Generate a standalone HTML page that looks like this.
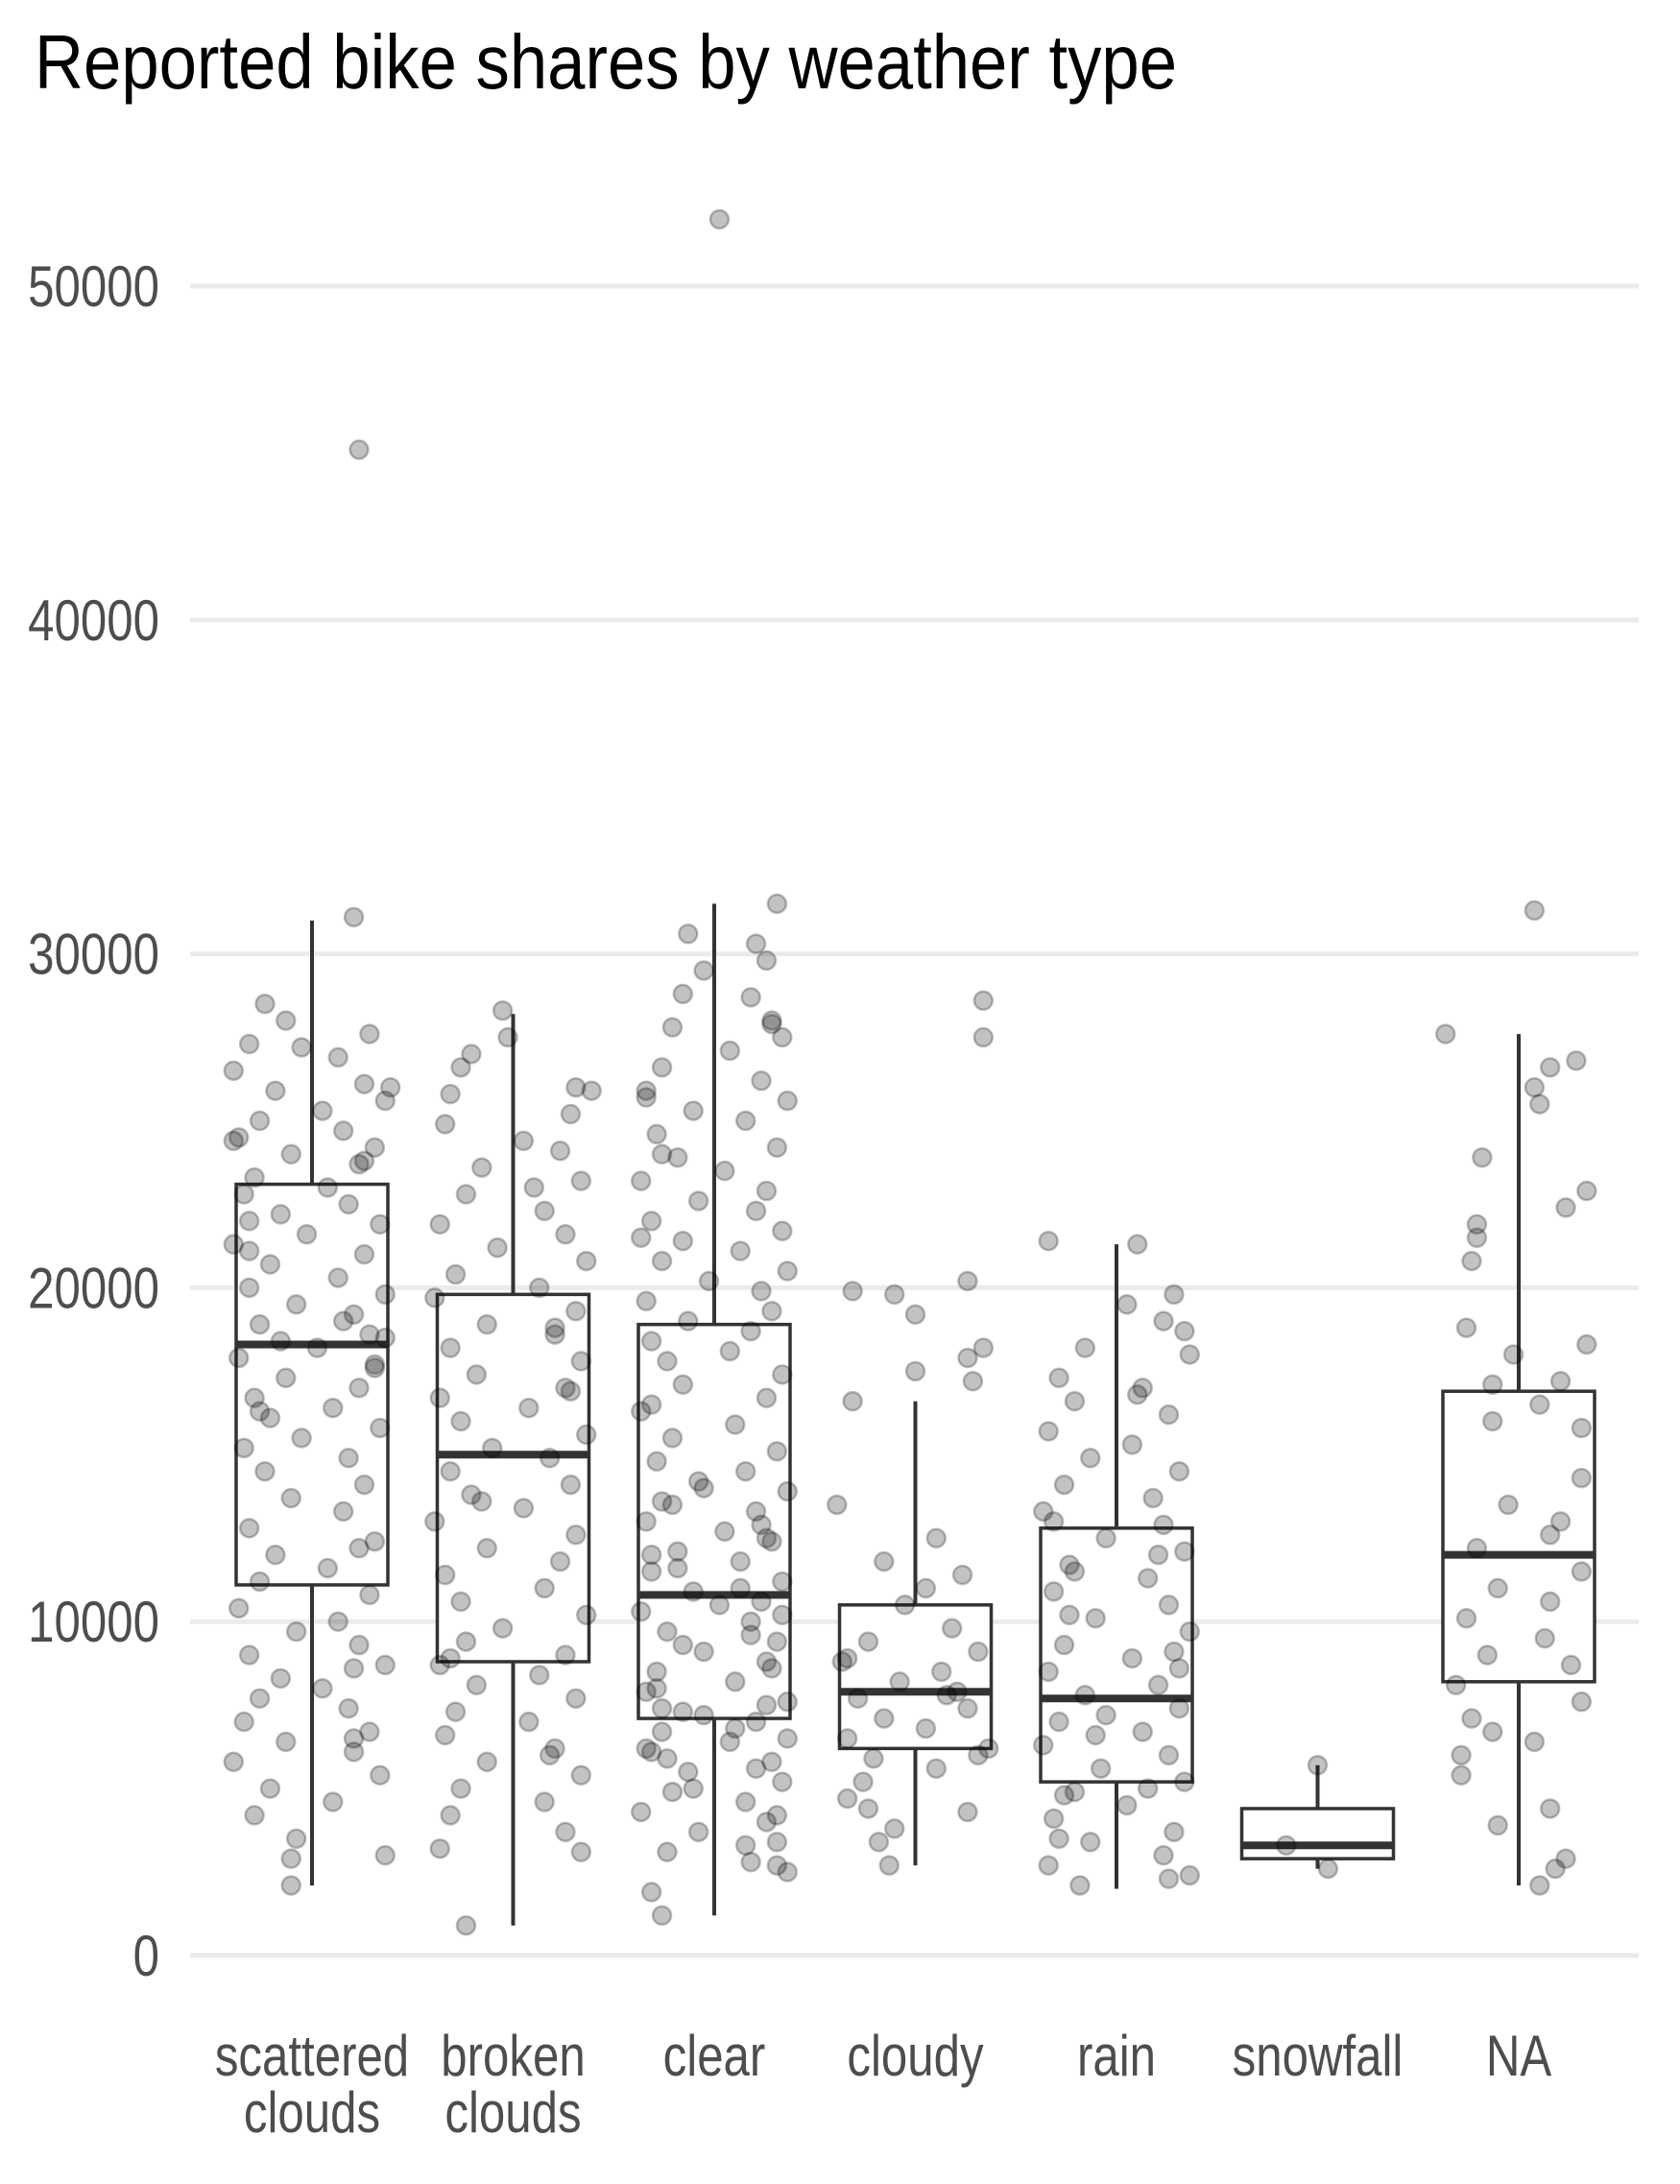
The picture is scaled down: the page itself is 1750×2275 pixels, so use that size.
<!DOCTYPE html>
<html><head><meta charset="utf-8">
<style>
html,body{margin:0;padding:0;background:#fff;}
svg{display:block;}
text{font-family:"Liberation Sans Narrow","Liberation Sans",sans-serif;}
</style></head>
<body>
<svg id="chart" width="1750" height="2275" viewBox="0 0 1750 2275" xmlns="http://www.w3.org/2000/svg">
<text x="36" y="92" font-size="80" fill="#000" textLength="1190" lengthAdjust="spacingAndGlyphs">Reported bike shares by weather type</text>
<g id="grid"></g>
<g id="yticks"></g>
<g id="boxes"></g>
<g id="points"></g>
<g id="xticks"></g>
</svg>
<script>
const categories = ["scattered clouds","broken clouds","clear","cloudy","rain","snowfall","NA"];
const yTicks = [0,10000,20000,30000,40000,50000];
const whiskerLow = [2100,900,1200,2700,2000,2600,2100];
const q1 = [11100,8800,7100,6200,5200,2900,8200];
const median = [18300,15000,10800,7900,7700,3300,12000];
const q3 = [23100,19800,18900,10500,12800,4400,16900];
const whiskerHigh = [31000,28200,31500,16600,21300,5700,27600];
// points: values in thousands, jitter as fraction of category spacing
const ptsScattered = [31.1,28.5,28.0,27.3,27.6,27.2,26.9,26.5,26.1,25.9,25.6,25.3,25.0,24.7,24.5,24.2,24.0,23.7,23.3,23.0,22.8,22.5,22.2,21.9,21.6,21.3,21.0,20.7,20.3,20.0,19.8,19.5,19.2,18.9,18.6,18.4,18.2,17.9,17.6,17.3,17.0,16.7,16.4,16.1,15.8,15.5,15.2,14.9,14.5,14.1,13.7,13.3,12.8,12.4,12.0,11.6,11.2,10.8,10.4,10.0,9.7,9.3,9.0,8.7,8.3,8.0,7.7,7.4,7.0,6.7,6.4,6.1,5.8,5.4,5.0,4.6,4.2,3.5,3.0,2.9,2.1,45.1,26.0,23.8,22.0,19.0,17.7,16.3,12.2,8.6,6.5,24.4,21.1,18.5];
const jitScattered = [0.08,-0.09,-0.05,-0.12,0.11,-0.02,0.05,-0.15,0.1,-0.07,0.14,0.02,-0.1,0.06,-0.14,0.12,-0.04,0.09,-0.11,0.03,-0.13,0.07,-0.06,0.13,-0.01,-0.15,0.1,-0.08,0.05,-0.12,0.14,-0.03,0.08,-0.1,0.11,-0.06,0.01,-0.14,0.12,-0.05,0.09,-0.11,0.04,-0.08,0.13,-0.02,-0.13,0.07,-0.09,0.1,-0.04,0.06,-0.12,0.12,-0.07,0.03,-0.1,0.11,-0.14,0.05,-0.03,0.09,-0.12,0.14,-0.06,0.02,-0.1,0.07,-0.13,0.11,-0.05,0.08,-0.15,0.13,-0.08,0.04,-0.11,-0.03,0.14,-0.04,-0.04,0.09,0.15,0.1,-0.12,0.06,0.12,-0.1,0.09,0.08,0.08,-0.15,-0.12,0.14];
const ptsBroken = [28.3,27.5,27.0,26.6,26.0,25.8,25.2,24.9,24.4,24.1,23.6,23.2,22.8,22.3,21.9,21.6,21.2,20.8,20.4,20.0,19.7,19.3,18.9,18.6,18.2,17.8,17.4,17.0,16.7,16.4,16.0,15.6,15.2,14.9,14.5,14.1,13.8,13.4,13.0,12.6,12.2,11.8,11.4,11.0,10.6,10.2,9.8,9.4,9.0,8.7,8.4,8.1,7.7,7.3,7.0,6.6,6.2,5.8,5.4,5.0,4.6,4.2,3.7,3.2,3.1,0.9,25.9,23.0,18.8,16.9,13.6,8.9,6.0];
const jitBroken = [-0.02,-0.01,-0.08,-0.1,0.12,-0.12,0.11,-0.13,0.02,0.09,-0.06,0.13,-0.09,0.06,-0.14,0.1,-0.03,0.14,-0.11,0.05,-0.15,0.12,-0.05,0.08,-0.12,0.13,-0.07,0.1,-0.14,0.03,-0.1,0.14,-0.04,0.07,-0.12,0.11,-0.08,0.02,-0.15,0.12,-0.05,0.09,-0.13,0.06,-0.1,0.14,-0.02,-0.09,0.1,-0.14,0.05,-0.07,0.12,-0.11,0.03,-0.13,0.08,-0.05,0.13,-0.1,0.06,-0.12,0.1,-0.14,0.13,-0.09,0.15,0.04,0.08,0.11,-0.06,-0.12,0.07];
const ptsClear = [52.0,31.5,30.6,30.3,29.8,29.5,28.8,28.7,28.0,27.8,27.5,27.1,26.6,26.2,25.9,25.6,25.3,25.0,24.6,24.2,23.9,23.5,23.2,22.9,22.6,22.3,22.0,21.7,21.4,21.1,20.8,20.5,20.2,19.9,19.6,19.3,19.0,18.7,18.4,18.1,17.8,17.4,17.1,16.7,16.3,15.9,15.5,15.1,14.8,14.5,14.2,13.9,13.6,13.3,13.0,12.7,12.4,12.1,11.8,11.5,11.2,10.9,10.6,10.3,10.0,9.7,9.4,9.1,8.8,8.5,8.2,7.9,7.6,7.3,7.0,6.7,6.4,6.1,5.8,5.5,5.2,4.9,4.6,4.3,4.0,3.7,3.4,3.1,2.8,2.5,1.9,1.2,13.5,12.9,12.0,11.0,10.2,9.3,8.6,7.4,6.8,6.2,5.6,5.0,4.2,3.3,14.0,12.5,11.6,10.5,9.6,8.0,7.2,6.5,5.9,2.7,25.7,24.0,27.9,21.5,16.5,7.5];
const jitClear = [0.01,0.12,-0.05,0.08,0.1,-0.02,-0.06,0.07,0.11,-0.08,0.13,0.03,-0.1,0.09,-0.13,0.14,-0.04,0.06,-0.11,0.12,-0.07,0.02,-0.14,0.1,-0.03,0.08,-0.12,0.13,-0.06,0.05,-0.1,0.14,-0.01,0.09,-0.13,0.11,-0.05,0.07,-0.12,0.03,-0.09,0.13,-0.06,0.1,-0.14,0.04,-0.08,0.12,-0.11,0.06,-0.03,0.14,-0.1,0.08,-0.13,0.02,0.11,-0.07,0.05,-0.12,0.13,-0.04,0.09,-0.14,0.07,-0.09,0.12,-0.02,0.1,-0.11,0.04,-0.13,0.14,-0.06,0.08,-0.1,0.03,-0.12,0.11,-0.05,0.13,-0.08,0.06,-0.14,0.1,-0.03,0.12,-0.09,0.07,0.14,-0.12,-0.1,-0.08,0.09,-0.12,0.05,0.13,-0.06,0.11,-0.1,0.04,-0.13,0.08,-0.04,0.12,0.06,-0.02,0.1,-0.07,0.01,0.07,-0.11,-0.02,0.14,-0.09,0.12,-0.13,-0.1,0.11,-0.14,-0.12,0.1];
const ptsCloudy = [28.6,27.5,20.2,19.9,19.8,19.2,18.2,17.9,17.5,17.2,16.6,13.5,12.5,11.8,11.4,11.0,10.5,9.8,9.4,9.1,8.8,8.5,8.2,7.9,7.7,7.4,7.1,6.8,6.5,6.2,5.9,5.6,5.2,4.7,4.4,4.3,3.8,3.4,2.7,8.9,7.8,6.0];
const jitCloudy = [0.13,0.13,0.1,-0.12,-0.04,0.0,0.13,0.1,0.0,0.11,-0.12,-0.15,0.04,-0.06,0.09,0.02,-0.02,0.07,-0.09,0.12,-0.14,0.05,-0.03,0.08,-0.11,0.1,-0.06,0.02,-0.13,0.14,-0.08,0.04,-0.1,-0.13,-0.09,0.1,-0.04,-0.07,-0.05,-0.13,0.06,0.12];
const ptsRain = [21.4,21.3,19.8,19.5,19.0,18.7,18.2,18.0,17.3,17.0,16.6,16.2,15.7,15.3,14.9,14.5,14.1,13.7,13.3,12.9,12.5,12.1,11.7,11.3,10.9,10.5,10.1,9.7,9.3,8.9,8.5,8.1,7.8,7.4,7.0,6.7,6.3,6.0,5.6,5.2,4.9,4.5,4.1,3.7,3.4,3.0,2.7,2.4,2.1,12.0,10.2,8.6,6.6,5.0,3.5,2.3,16.8,13.0,11.5,9.1,7.2,4.8];
const jitRain = [-0.13,0.04,0.11,0.02,0.09,0.13,-0.06,0.14,-0.11,0.05,-0.08,0.1,-0.13,0.03,-0.05,0.12,-0.1,0.07,-0.14,0.09,-0.02,0.13,-0.09,0.06,-0.12,0.1,-0.04,0.14,-0.1,0.03,-0.13,0.08,-0.06,0.12,-0.11,0.05,-0.14,0.1,-0.03,0.13,-0.08,0.02,-0.12,0.11,-0.05,0.09,-0.13,0.14,-0.07,0.08,-0.09,0.12,-0.04,0.06,-0.11,0.1,0.04,-0.12,-0.08,0.11,-0.02,-0.1];
const ptsSnow = [5.7,3.3,2.6];
const jitSnow = [0.0,-0.06,0.02];
const ptsNA = [31.3,27.6,26.8,26.6,26.0,25.5,23.9,22.9,22.4,21.9,21.5,20.8,18.8,18.3,18.0,17.2,17.1,16.5,16.0,15.8,14.3,13.5,13.0,12.6,12.2,11.5,11.0,10.6,10.1,9.5,9.0,8.7,8.1,7.6,7.1,6.7,6.4,6.0,5.4,4.4,3.9,2.9,2.6,2.1];
const jitNA = [0.03,-0.14,0.11,0.06,0.03,0.04,-0.07,0.13,0.09,-0.08,-0.08,-0.09,-0.1,0.13,-0.01,0.08,-0.05,0.04,-0.05,0.12,0.12,-0.02,0.08,0.06,-0.08,0.12,-0.04,0.06,-0.1,0.05,-0.06,0.1,-0.12,0.12,-0.09,-0.05,0.03,-0.11,-0.11,0.06,-0.04,0.09,0.07,0.04];

const ptVals = [ptsScattered,ptsBroken,ptsClear,ptsCloudy,ptsRain,ptsSnow,ptsNA];
const ptJit = [jitScattered,jitBroken,jitClear,jitCloudy,jitRain,jitSnow,jitNA];

const NS='http://www.w3.org/2000/svg';
const Y0=2037, PER=347.8/10000;
function yScale(v){return Y0 - v*PER;}
const X0=325, STEP=209.5;
function xScale(i){return X0 + i*STEP;}
const BW=158;
const SX=0.82;
function mk(tag,attrs,parent){const e=document.createElementNS(NS,tag);for(const k in attrs)e.setAttribute(k,attrs[k]);parent.appendChild(e);return e;}

const grid=document.getElementById('grid'), yt=document.getElementById('yticks');
yTicks.forEach(t=>{
  const l=mk('line',{x1:198,x2:1707,y1:yScale(t),y2:yScale(t),stroke:'#ebebeb','stroke-width':5},grid);
  
  
  const tx=mk('text',{x:166/SX,y:yScale(t)+21,'text-anchor':'end','font-size':60,fill:'#4d4d4d',transform:'scale('+SX+',1)'},yt);
  
  
  tx.textContent=String(t);
});

const boxes=document.getElementById('boxes');
categories.forEach((c,i)=>{
  const g=mk('g',{},boxes);
  
  
  const cx=xScale(i);
  mk('line',{x1:cx,x2:cx,y1:yScale(whiskerHigh[i]),y2:yScale(q3[i]),stroke:'#333','stroke-width':4},g);
  mk('line',{x1:cx,x2:cx,y1:yScale(q1[i]),y2:yScale(whiskerLow[i]),stroke:'#333','stroke-width':4},g);
  mk('rect',{x:cx-BW/2,y:yScale(q3[i]),width:BW,height:yScale(q1[i])-yScale(q3[i]),fill:'#fff',stroke:'#333','stroke-width':3.5},g);
  mk('line',{x1:cx-BW/2,x2:cx+BW/2,y1:yScale(median[i]),y2:yScale(median[i]),stroke:'#333','stroke-width':8},g);
});

const pts=document.getElementById('points');
ptVals.forEach((arr,i)=>{
  arr.forEach((v,j)=>{
    const c=mk('circle',{cx:xScale(i)+ptJit[i][j]*STEP*2.6,cy:yScale(v*1000),r:9.5,fill:'rgba(0,0,0,0.24)',stroke:'rgba(0,0,0,0.25)','stroke-width':2.5},pts);
    
    
  });
});

const xt=document.getElementById('xticks');
categories.forEach((c,i)=>{
  const words=c==='scattered clouds'||c==='broken clouds'?c.split(' '):[c];
  words.forEach((w,k)=>{
    const t=mk('text',{x:xScale(i)/SX,y:2162+k*59,'text-anchor':'middle','font-size':60,fill:'#4d4d4d',transform:'scale('+SX+',1)'},xt);
    
    
    t.textContent=w;
  });
});
</script>
</body></html>
